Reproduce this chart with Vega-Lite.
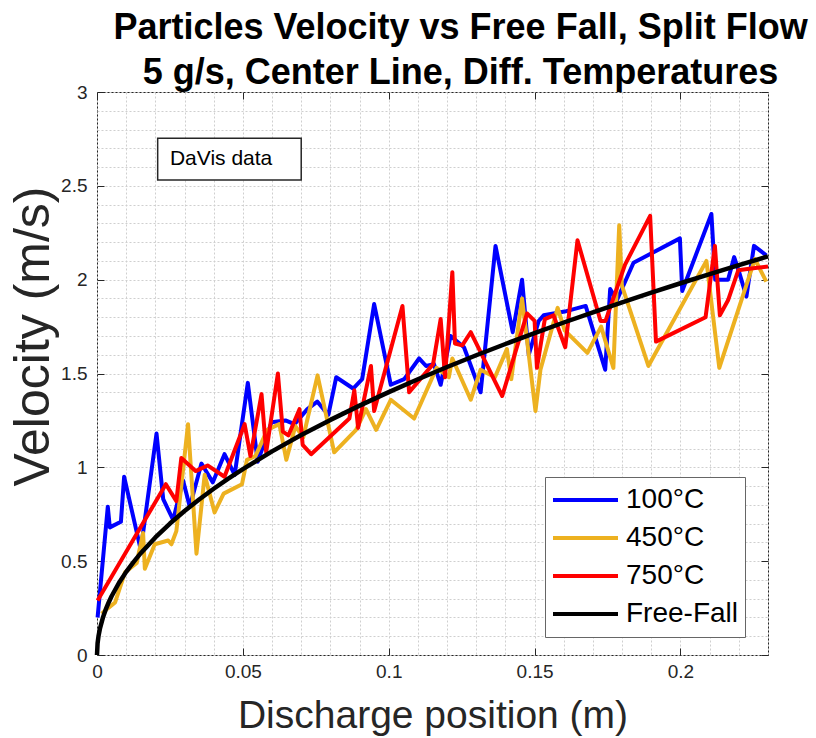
{
  "$schema": "https://vega.github.io/schema/vega-lite/v6.json",
  "width": 671,
  "height": 563,
  "autosize": {"type": "none"},
  "padding": {"left": 97, "top": 92, "right": 48, "bottom": 83},
  "background": "white",
  "title": {
    "text": ["Particles Velocity vs Free Fall, Split Flow", "5 g/s, Center Line, Diff. Temperatures"],
    "font": "Liberation Sans", "fontSize": 36, "fontWeight": "bold", "color": "black",
    "lineHeight": 45, "offset": -9, "dx": 28, "anchor": "middle"
  },
  "config": {
    "view": {"stroke": "#262626", "strokeWidth": 1},
    "axis": {
      "labelFont": "Liberation Sans", "labelFontSize": 19, "labelColor": "#262626",
      "titleFont": "Liberation Sans", "titleFontSize": 39, "titleFontWeight": "normal", "titleColor": "#262626",
      "tickColor": "#262626", "tickSize": -7, "tickWidth": 1,
      "domainColor": "#262626", "gridColor": "#cfcfcf", "gridDash": [2, 2], "gridWidth": 1
    }
  },
  "datasets": {
    "meas": [
      {"s":"100°C","x":0.0002,"v":0.20},{"s":"100°C","x":0.0037,"v":0.79},{"s":"100°C","x":0.0044,"v":0.68},{"s":"100°C","x":0.0082,"v":0.71},{"s":"100°C","x":0.0093,"v":0.95},{"s":"100°C","x":0.0150,"v":0.56},{"s":"100°C","x":0.0204,"v":1.18},{"s":"100°C","x":0.0227,"v":0.83},{"s":"100°C","x":0.0261,"v":0.72},{"s":"100°C","x":0.0295,"v":0.93},{"s":"100°C","x":0.0318,"v":0.79},{"s":"100°C","x":0.0358,"v":1.02},{"s":"100°C","x":0.0397,"v":0.92},{"s":"100°C","x":0.0437,"v":1.07},{"s":"100°C","x":0.0472,"v":0.96},{"s":"100°C","x":0.0517,"v":1.45},{"s":"100°C","x":0.0551,"v":1.03},{"s":"100°C","x":0.0598,"v":1.24},{"s":"100°C","x":0.0646,"v":1.25},{"s":"100°C","x":0.0677,"v":1.23},{"s":"100°C","x":0.0721,"v":1.31},{"s":"100°C","x":0.0755,"v":1.35},{"s":"100°C","x":0.0793,"v":1.28},{"s":"100°C","x":0.0820,"v":1.48},{"s":"100°C","x":0.0878,"v":1.42},{"s":"100°C","x":0.0909,"v":1.47},{"s":"100°C","x":0.0950,"v":1.87},{"s":"100°C","x":0.1007,"v":1.44},{"s":"100°C","x":0.1053,"v":1.47},{"s":"100°C","x":0.1104,"v":1.58},{"s":"100°C","x":0.1128,"v":1.54},{"s":"100°C","x":0.1155,"v":1.55},{"s":"100°C","x":0.1178,"v":1.44},{"s":"100°C","x":0.1212,"v":1.70},{"s":"100°C","x":0.1258,"v":1.64},{"s":"100°C","x":0.1315,"v":1.40},{"s":"100°C","x":0.1366,"v":2.18},{"s":"100°C","x":0.1425,"v":1.72},{"s":"100°C","x":0.1457,"v":2.00},{"s":"100°C","x":0.1480,"v":1.60},{"s":"100°C","x":0.1514,"v":1.78},{"s":"100°C","x":0.1531,"v":1.81},{"s":"100°C","x":0.1603,"v":1.83},{"s":"100°C","x":0.1675,"v":1.86},{"s":"100°C","x":0.1742,"v":1.52},{"s":"100°C","x":0.1759,"v":1.95},{"s":"100°C","x":0.1782,"v":1.89},{"s":"100°C","x":0.1839,"v":2.09},{"s":"100°C","x":0.1998,"v":2.22},{"s":"100°C","x":0.2006,"v":1.94},{"s":"100°C","x":0.2106,"v":2.35},{"s":"100°C","x":0.2119,"v":2.00},{"s":"100°C","x":0.2163,"v":2.00},{"s":"100°C","x":0.2184,"v":2.12},{"s":"100°C","x":0.2201,"v":2.04},{"s":"100°C","x":0.2226,"v":1.91},{"s":"100°C","x":0.2252,"v":2.18},{"s":"100°C","x":0.2294,"v":2.13},
      {"s":"450°C","x":0.0016,"v":0.22},{"s":"450°C","x":0.0038,"v":0.25},{"s":"450°C","x":0.0062,"v":0.28},{"s":"450°C","x":0.0096,"v":0.44},{"s":"450°C","x":0.0136,"v":0.49},{"s":"450°C","x":0.0158,"v":0.65},{"s":"450°C","x":0.0164,"v":0.46},{"s":"450°C","x":0.0198,"v":0.59},{"s":"450°C","x":0.0244,"v":0.61},{"s":"450°C","x":0.0255,"v":0.59},{"s":"450°C","x":0.0272,"v":0.66},{"s":"450°C","x":0.0312,"v":1.23},{"s":"450°C","x":0.0341,"v":0.54},{"s":"450°C","x":0.0369,"v":0.96},{"s":"450°C","x":0.0403,"v":0.76},{"s":"450°C","x":0.0434,"v":0.86},{"s":"450°C","x":0.0497,"v":0.91},{"s":"450°C","x":0.0514,"v":1.04},{"s":"450°C","x":0.0543,"v":1.06},{"s":"450°C","x":0.0584,"v":1.20},{"s":"450°C","x":0.0625,"v":1.23},{"s":"450°C","x":0.0649,"v":1.04},{"s":"450°C","x":0.0680,"v":1.22},{"s":"450°C","x":0.0707,"v":1.16},{"s":"450°C","x":0.0756,"v":1.49},{"s":"450°C","x":0.0813,"v":1.08},{"s":"450°C","x":0.0888,"v":1.20},{"s":"450°C","x":0.0922,"v":1.31},{"s":"450°C","x":0.0957,"v":1.20},{"s":"450°C","x":0.1007,"v":1.36},{"s":"450°C","x":0.1087,"v":1.26},{"s":"450°C","x":0.1164,"v":1.53},{"s":"450°C","x":0.1206,"v":1.48},{"s":"450°C","x":0.1218,"v":1.58},{"s":"450°C","x":0.1281,"v":1.36},{"s":"450°C","x":0.1315,"v":1.52},{"s":"450°C","x":0.1364,"v":1.48},{"s":"450°C","x":0.1405,"v":1.63},{"s":"450°C","x":0.1420,"v":1.47},{"s":"450°C","x":0.1457,"v":1.90},{"s":"450°C","x":0.1503,"v":1.30},{"s":"450°C","x":0.1520,"v":1.52},{"s":"450°C","x":0.1579,"v":1.85},{"s":"450°C","x":0.1603,"v":1.73},{"s":"450°C","x":0.1681,"v":1.61},{"s":"450°C","x":0.1728,"v":1.75},{"s":"450°C","x":0.1770,"v":1.53},{"s":"450°C","x":0.1790,"v":2.29},{"s":"450°C","x":0.1799,"v":1.97},{"s":"450°C","x":0.1890,"v":1.54},{"s":"450°C","x":0.2089,"v":2.10},{"s":"450°C","x":0.2133,"v":1.53},{"s":"450°C","x":0.2255,"v":2.11},{"s":"450°C","x":0.2294,"v":1.99},
      {"s":"750°C","x":0.0002,"v":0.29},{"s":"750°C","x":0.0236,"v":0.91},{"s":"750°C","x":0.0272,"v":0.82},{"s":"750°C","x":0.0289,"v":1.05},{"s":"750°C","x":0.0338,"v":0.98},{"s":"750°C","x":0.0379,"v":1.01},{"s":"750°C","x":0.0437,"v":0.95},{"s":"750°C","x":0.0506,"v":1.23},{"s":"750°C","x":0.0526,"v":1.06},{"s":"750°C","x":0.0564,"v":1.39},{"s":"750°C","x":0.0580,"v":1.08},{"s":"750°C","x":0.0620,"v":1.50},{"s":"750°C","x":0.0637,"v":1.19},{"s":"750°C","x":0.0656,"v":1.17},{"s":"750°C","x":0.0694,"v":1.31},{"s":"750°C","x":0.0705,"v":1.12},{"s":"750°C","x":0.0734,"v":1.07},{"s":"750°C","x":0.0865,"v":1.26},{"s":"750°C","x":0.0882,"v":1.41},{"s":"750°C","x":0.0895,"v":1.21},{"s":"750°C","x":0.0939,"v":1.54},{"s":"750°C","x":0.0950,"v":1.30},{"s":"750°C","x":0.1047,"v":1.86},{"s":"750°C","x":0.1070,"v":1.40},{"s":"750°C","x":0.1152,"v":1.55},{"s":"750°C","x":0.1178,"v":1.79},{"s":"750°C","x":0.1193,"v":1.48},{"s":"750°C","x":0.1218,"v":2.04},{"s":"750°C","x":0.1227,"v":1.66},{"s":"750°C","x":0.1252,"v":1.65},{"s":"750°C","x":0.1281,"v":1.72},{"s":"750°C","x":0.1389,"v":1.38},{"s":"750°C","x":0.1474,"v":1.82},{"s":"750°C","x":0.1500,"v":1.78},{"s":"750°C","x":0.1508,"v":1.53},{"s":"750°C","x":0.1535,"v":1.79},{"s":"750°C","x":0.1565,"v":1.81},{"s":"750°C","x":0.1605,"v":1.64},{"s":"750°C","x":0.1647,"v":2.21},{"s":"750°C","x":0.1726,"v":1.78},{"s":"750°C","x":0.1743,"v":1.78},{"s":"750°C","x":0.1810,"v":2.08},{"s":"750°C","x":0.1896,"v":2.34},{"s":"750°C","x":0.1916,"v":1.67},{"s":"750°C","x":0.2086,"v":1.80},{"s":"750°C","x":0.2118,"v":2.18},{"s":"750°C","x":0.2135,"v":1.81},{"s":"750°C","x":0.2163,"v":1.89},{"s":"750°C","x":0.2198,"v":2.05},{"s":"750°C","x":0.2242,"v":2.06},{"s":"750°C","x":0.2300,"v":2.07}
    ],
    "ff": [
      {"s":"Free-Fall","x":0,"v":0},{"s":"Free-Fall","x":0.0002,"v":0.0626},{"s":"Free-Fall","x":0.0005,"v":0.0990},{"s":"Free-Fall","x":0.001,"v":0.1401},{"s":"Free-Fall","x":0.002,"v":0.1981},{"s":"Free-Fall","x":0.003,"v":0.2426},{"s":"Free-Fall","x":0.004,"v":0.2801},{"s":"Free-Fall","x":0.005,"v":0.3132},{"s":"Free-Fall","x":0.0075,"v":0.3836},{"s":"Free-Fall","x":0.01,"v":0.4429},{"s":"Free-Fall","x":0.0125,"v":0.4952},{"s":"Free-Fall","x":0.015,"v":0.5425},{"s":"Free-Fall","x":0.02,"v":0.6264},{"s":"Free-Fall","x":0.025,"v":0.7004},{"s":"Free-Fall","x":0.03,"v":0.7672},{"s":"Free-Fall","x":0.035,"v":0.8287},{"s":"Free-Fall","x":0.04,"v":0.8859},{"s":"Free-Fall","x":0.045,"v":0.9396},{"s":"Free-Fall","x":0.05,"v":0.9905},{"s":"Free-Fall","x":0.06,"v":1.0850},{"s":"Free-Fall","x":0.07,"v":1.1719},{"s":"Free-Fall","x":0.08,"v":1.2528},{"s":"Free-Fall","x":0.09,"v":1.3288},{"s":"Free-Fall","x":0.10,"v":1.4007},{"s":"Free-Fall","x":0.11,"v":1.4691},{"s":"Free-Fall","x":0.12,"v":1.5344},{"s":"Free-Fall","x":0.13,"v":1.5971},{"s":"Free-Fall","x":0.14,"v":1.6573},{"s":"Free-Fall","x":0.15,"v":1.7155},{"s":"Free-Fall","x":0.16,"v":1.7718},{"s":"Free-Fall","x":0.17,"v":1.8263},{"s":"Free-Fall","x":0.18,"v":1.8793},{"s":"Free-Fall","x":0.19,"v":1.9308},{"s":"Free-Fall","x":0.20,"v":1.9809},{"s":"Free-Fall","x":0.21,"v":2.0298},{"s":"Free-Fall","x":0.22,"v":2.0776},{"s":"Free-Fall","x":0.23,"v":2.1243}
    ],
    "note": [{"x1": 0.0208, "x2": 0.0700, "y1": 2.531, "y2": 2.753, "tx": 0.0250, "ty": 2.642, "label": "DaVis data"}]
  },
  "layer": [
    {
      "data": {"name": "meas"},
      "mark": {"type": "line", "strokeWidth": 4, "strokeJoin": "round"},
      "encoding": {
        "x": {"field": "x", "type": "quantitative", "scale": {"domain": [0, 0.23], "nice": false, "zero": false},
          "axis": {"orient": "bottom", "title": "Discharge position (m)", "grid": true, "domain": false,
            "values": [0,0.01,0.02,0.03,0.04,0.05,0.06,0.07,0.08,0.09,0.1,0.11,0.12,0.13,0.14,0.15,0.16,0.17,0.18,0.19,0.2,0.21,0.22,0.23],
            "labelExpr": "round(datum.value*100) % 5 == 0 ? format(datum.value, '~g') : ''",
            "tickOpacity": {"condition": {"test": "round(datum.value*100) % 5 == 0", "value": 1}, "value": 0},
            "labelPadding": 14, "titlePadding": 15, "labelFlush": false}},
        "y": {"field": "v", "type": "quantitative", "scale": {"domain": [0, 3], "nice": false},
          "axis": {"orient": "left", "title": "Velocity (m/s)", "grid": true, "domain": false,
            "values": [0,0.1,0.2,0.3,0.4,0.5,0.6,0.7,0.8,0.9,1,1.1,1.2,1.3,1.4,1.5,1.6,1.7,1.8,1.9,2,2.1,2.2,2.3,2.4,2.5,2.6,2.7,2.8,2.9,3],
            "labelExpr": "round(datum.value*10) % 5 == 0 ? format(datum.value, '~g') : ''",
            "tickOpacity": {"condition": {"test": "round(datum.value*10) % 5 == 0", "value": 1}, "value": 0},
            "labelPadding": 17, "titleFontSize": 50, "titleX": -49, "titleY": 244, "titleBaseline": "alphabetic", "titleAlign": "center", "titleAngle": -90, "labelFlush": false}},
        "color": {"field": "s", "type": "nominal",
          "scale": {"domain": ["100°C", "450°C", "750°C", "Free-Fall"], "range": ["#0000FF", "#EDB120", "#FF0000", "#000000"]},
          "legend": {"orient": "none", "legendX": 448, "legendY": 385, "title": null, "symbolType": "stroke", "symbolStrokeWidth": 4, "symbolSize": 4225, "clipHeight": 34, "labelFontSize": 28, "labelFont": "Liberation Sans", "labelColor": "black", "fillColor": "white", "strokeColor": "#666666", "padding": 6, "rowPadding": 4, "labelOffset": 6, "labelLimit": 300}}
      }
    },
    {
      "data": {"name": "ff"},
      "mark": {"type": "line", "strokeWidth": 4.5, "strokeJoin": "round"},
      "encoding": {
        "x": {"field": "x", "type": "quantitative", "axis": {"orient": "top", "title": null, "labels": false, "grid": false, "domain": false, "values": [0, 0.05, 0.1, 0.15, 0.2]}},
        "y": {"field": "v", "type": "quantitative", "axis": {"orient": "right", "title": null, "labels": false, "grid": false, "domain": false, "values": [0, 0.5, 1, 1.5, 2, 2.5, 3]}},
        "color": {"field": "s", "type": "nominal",
          "scale": {"domain": ["100°C", "450°C", "750°C", "Free-Fall"], "range": ["#0000FF", "#EDB120", "#FF0000", "#000000"]},
          "legend": {"orient": "none", "legendX": 448, "legendY": 385, "title": null, "symbolType": "stroke", "symbolStrokeWidth": 4, "symbolSize": 4225, "clipHeight": 34, "labelFontSize": 28, "labelFont": "Liberation Sans", "labelColor": "black", "fillColor": "white", "strokeColor": "#666666", "padding": 6, "rowPadding": 4, "labelOffset": 6, "labelLimit": 300}}
      }
    },
    {
      "data": {"name": "note"},
      "mark": {"type": "rect", "fill": "white", "stroke": "#262626", "strokeWidth": 1.5},
      "encoding": {
        "x": {"field": "x1", "type": "quantitative", "axis": null},
        "x2": {"field": "x2"},
        "y": {"field": "y1", "type": "quantitative", "axis": null},
        "y2": {"field": "y2"}
      }
    },
    {
      "data": {"name": "note"},
      "mark": {"type": "text", "font": "Liberation Sans", "fontSize": 21, "color": "black", "align": "left", "baseline": "middle"},
      "encoding": {
        "x": {"field": "tx", "type": "quantitative", "axis": null},
        "y": {"field": "ty", "type": "quantitative", "axis": null},
        "text": {"field": "label"}
      }
    }
  ],
  "resolve": {"axis": {"x": "independent", "y": "independent"}}
}
